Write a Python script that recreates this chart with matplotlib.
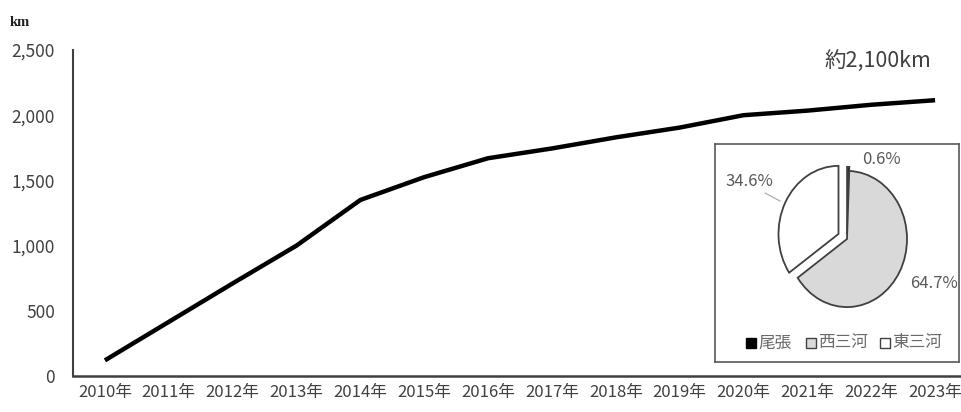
import matplotlib
matplotlib.use("Agg")
import matplotlib.pyplot as plt

plt.rcParams['font.family'] = ['Noto Sans CJK JP', 'DejaVu Sans']

years = ["2010年", "2011年", "2012年", "2013年", "2014年", "2015年", "2016年",
         "2017年", "2018年", "2019年", "2020年", "2021年", "2022年", "2023年"]
length_km = [120, 415, 710, 1000, 1350, 1525, 1670, 1745, 1830, 1905, 2000, 2035, 2080, 2115]
yticks = [0, 500, 1000, 1500, 2000, 2500]
ytick_labels = ["0", "500", "1,000", "1,500", "2,000", "2,500"]

pie_labels = ["尾張", "西三河", "東三河"]
pie_values = [0.6, 64.7, 34.6]
pie_pct = ["0.6%", "64.7%", "34.6%"]
pie_colors = ["#000000", "#d9d9d9", "#ffffff"]

W, H = 961, 412
fig = plt.figure(figsize=(W / 100, H / 100), dpi=100)

def rect(x0, y0, x1, y1):
    return [x0 / W, 1 - y1 / H, (x1 - x0) / W, (y1 - y0) / H]

ax = fig.add_axes(rect(73, 50, 967, 376))
x = list(range(len(years)))
ax.plot(x, length_km, color="black", lw=3.2, solid_capstyle="butt")
ax.set_xlim(-0.5, len(years) - 0.5)
ax.set_ylim(0, 2500)
ax.set_yticks(yticks)
ax.set_yticklabels(ytick_labels, fontsize=12.5, color="#404040")
ax.set_xticks(x)
ax.set_xticklabels(years, fontsize=12, color="#404040")
ax.tick_params(length=0, pad=6)
ax.tick_params(axis="y", pad=13)
for s in ["top", "right"]:
    ax.spines[s].set_visible(False)
ax.spines["left"].set_color("#404040")
ax.spines["bottom"].set_color("#404040")
ax.spines["left"].set_linewidth(1.5)
ax.spines["bottom"].set_linewidth(1.8)

fig.text(10 / W, 1 - 22 / H, "km", fontsize=10.5, fontweight="bold",
         family=["Liberation Serif", "DejaVu Serif"], color="#202020", va="center")
fig.text(878 / W, 1 - 61 / H, "約2,100km", fontsize=15.5, color="#404040",
         ha="center", va="center")

# inset box
box = fig.add_axes(rect(715, 144, 959, 362))
box.set_xticks([]); box.set_yticks([])
box.set_xlim(715, 959); box.set_ylim(362, 144)
for s in box.spines.values():
    s.set_color("#595959"); s.set_linewidth(1.2)
box.set_facecolor("white")

pax = fig.add_axes(rect(769, 150.5, 925, 327.5))
pax.pie(pie_values, colors=pie_colors, startangle=90, counterclock=False,
        explode=[0.06, 0, 0.16],
        wedgeprops=dict(edgecolor="#404040", linewidth=1.3))
pax.set_xlim(-1.3, 1.3); pax.set_ylim(-1.3, 1.3)
pax.set_aspect("auto")
pax.axis("off")

lab_kw = dict(fontsize=12, color="#595959", va="center")
box.text(881, 160, pie_pct[0], ha="center", **lab_kw)
box.text(910, 284, pie_pct[1], ha="left", **lab_kw)
box.text(749, 182, pie_pct[2], ha="center", **lab_kw)
box.plot([765, 780], [193, 201], color="#a6a6a6", lw=0.8)

leg_y = 343
lx = [751, 811, 885]
for xi, lab, col in zip(lx, pie_labels, pie_colors):
    box.plot([xi], [leg_y], marker="s", ms=7, mfc=col,
             mec="#000000" if col == "#000000" else "#404040", mew=1)
    box.text(xi + 7, leg_y, lab, fontsize=12, color="#6a6a6a", va="center", ha="left")

fig.savefig("out.png", dpi=100)
